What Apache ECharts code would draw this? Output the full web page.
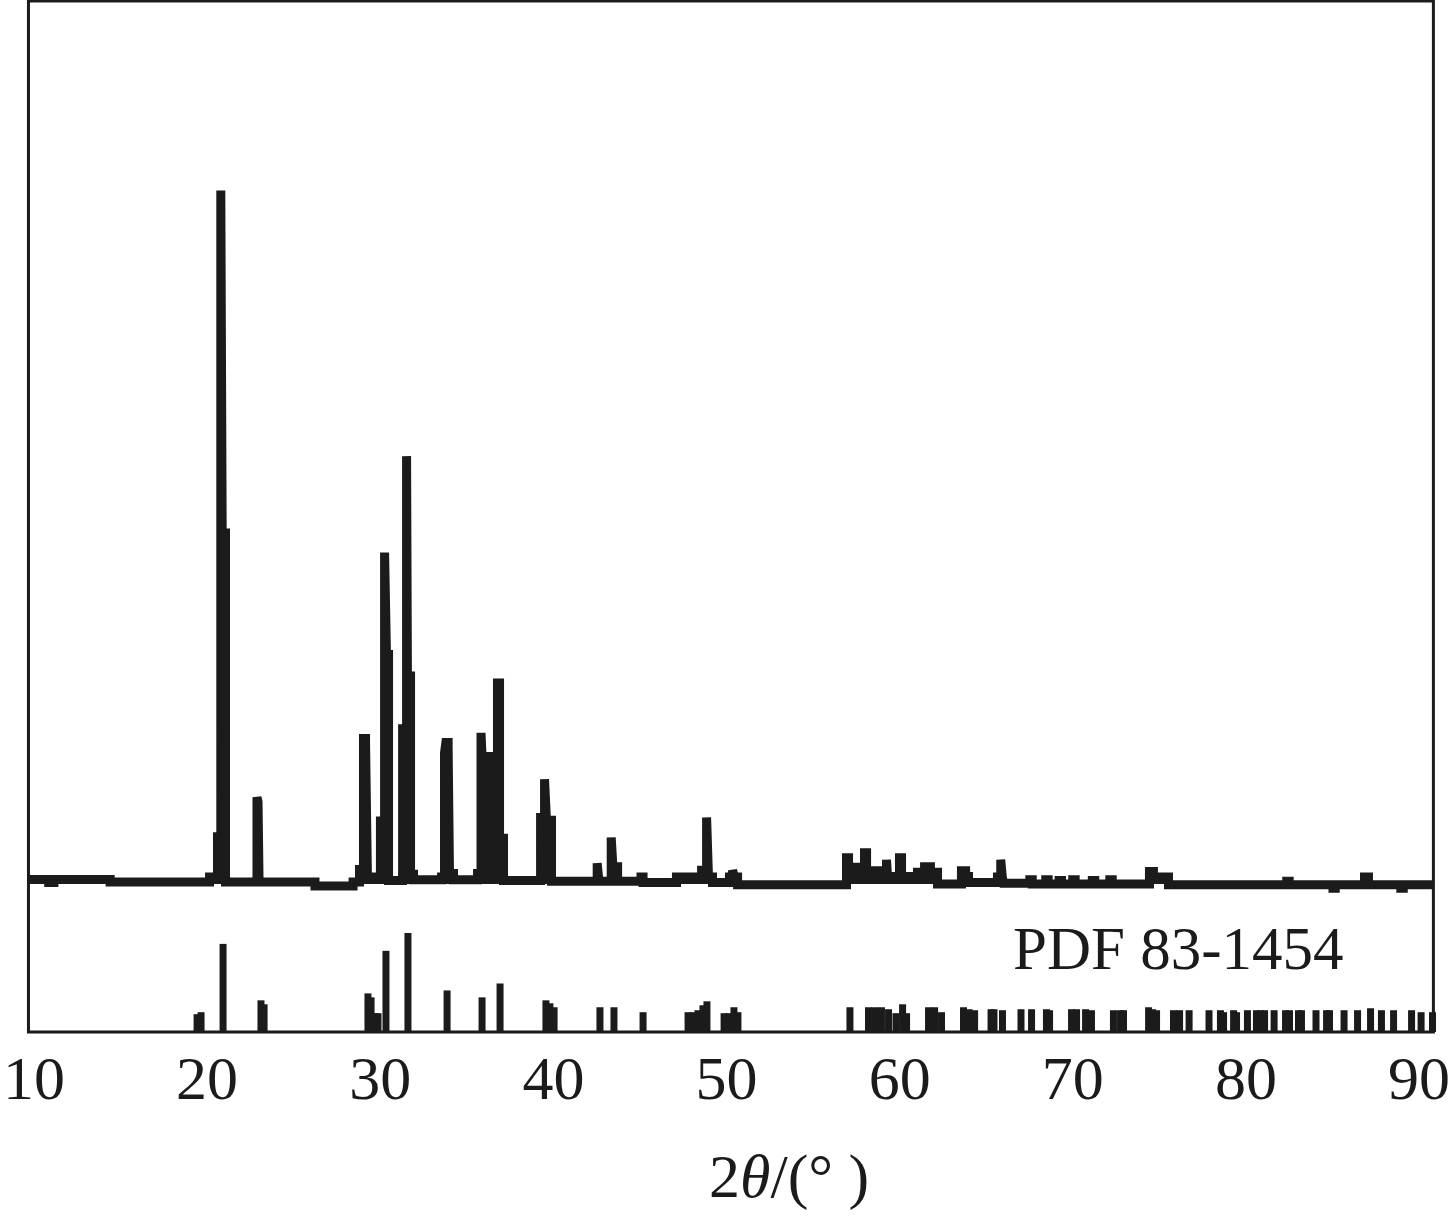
<!DOCTYPE html>
<html><head><meta charset="utf-8">
<script src="https://cdn.jsdelivr.net/npm/echarts@6/dist/echarts.min.js"></script>
<style>html,body{margin:0;padding:0;background:#fff}#c{width:1453px;height:1222px}</style>
</head><body><div id="c"></div>
<script>
// Measured XRD pattern (step levels: each intensity holds from its 2θ to the next 2θ)
const xrdTheta = [9.68,10.85,11.15,14.40,20.14,20.60,20.79,20.87,21.06,22.88,22.94,23.00,26.23,28.43,28.80,29.03,29.15,29.26,30.01,30.25,30.36,30.48,31.29,31.52,31.57,31.75,31.92,33.54,33.71,33.79,33.92,34.00,34.23,35.62,35.82,35.88,36.77,36.89,37.12,39.26,39.49,39.60,39.89,42.53,42.63,43.34,43.44,43.71,45.06,45.18,47.11,48.56,48.85,48.96,49.19,50.17,50.35,50.46,50.64,56.93,57.05,57.97,58.09,59.24,59.30,59.99,60.11,61.03,61.44,61.78,62.19,63.57,63.81,63.98,65.65,65.84,65.93,66.00,67.52,67.66,68.44,68.58,69.21,69.35,70.00,70.14,71.13,71.27,72.14,72.28,74.43,74.66,75.53,82.36,82.50,85.03,85.16,86.85,87.08,88.95,89.09,90.83];
const xrdIntensity = [0.65,0.2,0.65,0.3,1.0,6.8,100,50.6,0.3,12.5,11.9,0.3,-0.3,0.3,2.1,21.0,20.5,1.0,9.1,47.8,33.1,0.5,22.4,61.7,30.0,1.4,0.6,1.0,18.9,20.4,19.8,1.5,0.6,1.5,21.8,18.4,29.0,6.6,0.5,9.6,15.1,9.2,0.4,3.0,0.4,6.7,2.5,0.4,1.0,0.2,1.0,2.0,9.6,1.0,0.2,1.0,2.0,1.0,-0.1,3.8,2.4,4.5,1.9,3.5,1.1,3.8,1.1,1.7,2.5,1.7,0.0,1.9,1.1,0.2,1.0,3.5,1.0,0.1,0.6,0.0,0.6,0.0,0.5,0.0,0.6,0.0,0.5,0.0,0.6,0.0,1.8,1.0,-0.1,0.4,-0.1,-0.6,-0.1,1.0,-0.1,-0.6,-0.1,-0.1];

// Reference card PDF 83-1454 (2θ, relative intensity %)
const pdfTheta = [19.42,19.65,20.92,23.11,23.29,29.29,29.47,29.70,29.87,30.33,31.60,33.86,35.88,36.92,39.57,39.80,40.04,42.69,43.50,45.18,47.78,48.06,48.35,48.64,48.87,49.86,50.14,50.43,50.66,57.13,58.20,58.58,58.95,59.36,59.79,60.17,60.40,61.67,62.02,62.42,63.69,64.01,64.33,65.28,65.45,65.94,67.01,67.62,68.48,68.66,69.93,70.22,70.74,71.08,72.35,72.76,72.93,74.38,74.61,74.84,75.82,76.17,76.72,77.87,78.53,78.71,79.29,79.46,80.09,80.61,80.85,81.08,81.63,82.29,82.52,83.04,83.21,84.05,84.66,84.83,85.67,86.45,87.20,87.83,88.53,89.57,90.12,90.78];
const pdfIntensity = [18,20,89,32,28,39,35,19,19,82,100,42,35,49,32,29,25,25,25,20,20,20,22,27,31,19,19,25,20,25,25,25,25,23,19,28,19,25,25,20,25,23,22,23,23,22,23,23,23,22,23,23,23,22,22,22,22,25,23,22,22,22,22,22,22,20,22,20,22,22,22,22,22,22,22,22,22,22,22,22,22,22,24,22,22,22,20,20];

const tickLabels = [10,20,30,40,50,60,70,80,90];
const axisTitle = ['2', 'θ', '/(° )'];
const cardLabel = 'PDF 83-1454';

const ink = '#1b1b1b';
const serif = '"Liberation Serif", "Times New Roman", serif';

const chart = echarts.init(document.getElementById('c'), null, {renderer: 'canvas'});
chart.setOption({
  animation: false,
  backgroundColor: '#ffffff',
  grid: {left: 27, right: 19, top: 1, bottom: 190, show: true, borderColor: ink, borderWidth: 3, backgroundColor: 'transparent'},
  xAxis: {
    type: 'value', min: 9.68, max: 90.83,
    axisLine: {show: false}, axisTick: {show: false}, splitLine: {show: false},
    axisLabel: {customValues: tickLabels, fontFamily: serif, fontSize: 62, color: ink, margin: 20}
  },
  yAxis: [
    {type: 'value', min: -21.34, max: 127.33, show: false, splitLine: {show: false}},
    {type: 'value', min: 0, max: 1041.4, show: false, splitLine: {show: false}}
  ],
  series: [
    {
      type: 'line', yAxisIndex: 0, step: 'end', showSymbol: false, silent: true,
      data: xrdTheta.map((t, i) => [t, xrdIntensity[i]]),
      lineStyle: {width: 9, color: ink, join: 'miter', miterLimit: 2, cap: 'butt'},
      areaStyle: {color: ink, opacity: 1, origin: 'auto'}
    },
    {
      type: 'bar', yAxisIndex: 1, barWidth: 7, silent: true,
      data: pdfTheta.map((t, i) => [t, pdfIntensity[i]]),
      itemStyle: {color: ink}
    }
  ],
  graphic: [
    {type: 'text', x: 1013, y: 922, silent: true,
      style: {text: cardLabel, font: '61px ' + serif, fill: ink, align: 'left', verticalAlign: 'top', textAlign: 'left', textVerticalAlign: 'top'}},
    {type: 'text', x: 709, y: 1150, silent: true,
      style: {
        text: '{a|' + axisTitle[0] + '}{b|' + axisTitle[1] + '}{a|' + axisTitle[2] + '}',
        fill: ink, align: 'left', verticalAlign: 'top', textAlign: 'left', textVerticalAlign: 'top',
        font: '62px ' + serif,
        rich: {
          a: {fontFamily: serif, fontSize: 62, fill: ink},
          b: {fontFamily: serif, fontSize: 62, fontStyle: 'italic', fill: ink}
        }
      }}
  ]
});
</script>
</body></html>
